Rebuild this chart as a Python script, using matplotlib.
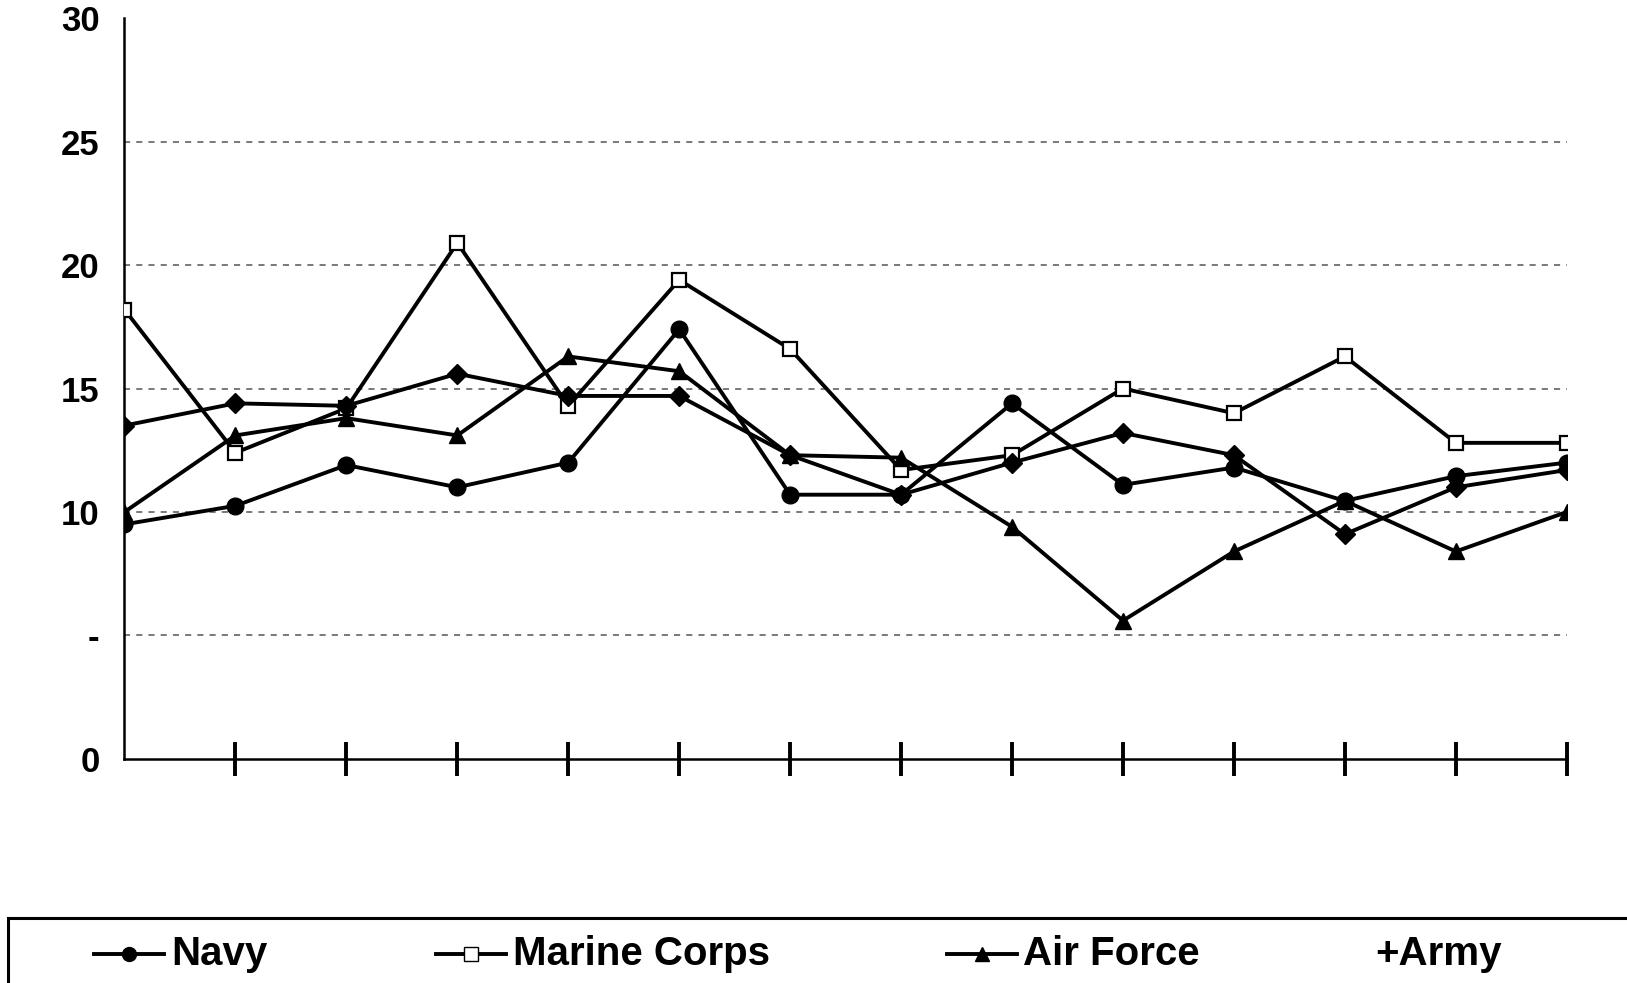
import matplotlib
matplotlib.use("Agg")
import matplotlib.pyplot as plt
from matplotlib.lines import Line2D
from matplotlib.patches import Rectangle

plt.rcParams['font.family'] = ['Liberation Sans', 'DejaVu Sans']

# values (14 periods, no x labels)
periods = list(range(14))
navy = [9.5, 10.25, 11.9, 11.0, 12.0, 17.4, 10.7, 10.7, 14.4, 11.1, 11.8, 10.45, 11.45, 12.0]
marine_corps = [18.2, 12.4, 14.2, 20.9, 14.3, 19.4, 16.6, 11.7, 12.3, 15.0, 14.0, 16.3, 12.8, 12.8]
air_force = [10.0, 13.1, 13.8, 13.1, 16.3, 15.7, 12.3, 12.2, 9.4, 5.6, 8.4, 10.45, 8.4, 10.0]
army = [13.5, 14.4, 14.3, 15.6, 14.7, 14.7, 12.3, 10.7, 12.0, 13.2, 12.3, 9.1, 11.0, 11.7]

ytick_vals = [0, 5, 10, 15, 20, 25, 30]
ytick_labels = ["0", "-", "10", "15", "20", "25", "30"]

fig = plt.figure(figsize=(16.27, 9.83), dpi=100)
ax = fig.add_axes([0.0765, 0.228, 0.8865, 0.7535])

lw = 2.8
for yv in [5, 10, 15, 20, 25]:
    ax.axhline(yv, color="#555555", lw=1.1, ls=(0, (4, 4)), zorder=0)

ax.plot(periods, navy, color="black", lw=lw, marker="o", ms=12, zorder=3)
ax.plot(periods, marine_corps, color="black", lw=lw, marker="s", ms=10,
        mfc="white", mec="black", mew=1.6, zorder=3)
ax.plot(periods, air_force, color="black", lw=lw, marker="^", ms=11, zorder=3)
ax.plot(periods, army, color="black", lw=lw, marker="D", ms=10, zorder=3)

ax.set_xlim(0, 13)
ax.set_ylim(0, 30)
ax.set_xticks(range(1, 14))
ax.set_xticklabels([])
ax.tick_params(axis="x", direction="inout", length=24, width=2.8, color="black")
ax.set_yticks(ytick_vals)
ax.set_yticklabels(ytick_labels, fontsize=25, fontweight="bold")
ax.tick_params(axis="y", length=0, pad=18)
ax.spines["top"].set_visible(False)
ax.spines["right"].set_visible(False)
ax.spines["left"].set_linewidth(1.8)
ax.spines["bottom"].set_linewidth(1.8)

# legend box, cut off at the bottom and right as in the scan
fig.add_artist(Rectangle((0.005, -0.05), 1.1, 0.1165, transform=fig.transFigure,
                         fill=False, ec="black", lw=2.2, clip_on=False))

legend_y = 0.029
entries = [
    (0.058, "o", "black", "Navy"),
    (0.268, "s", "white", "Marine Corps"),
    (0.582, "^", "black", "Air Force"),
]
for x0, mk, fc, label in entries:
    fig.add_artist(Line2D([x0, x0 + 0.043], [legend_y, legend_y], transform=fig.transFigure,
                          color="black", lw=lw, zorder=4))
    fig.add_artist(Line2D([x0 + 0.0215], [legend_y], transform=fig.transFigure,
                          color="black", marker=mk, ms=10, mfc=fc, mec="black", zorder=5))
    fig.text(x0 + 0.047, legend_y, label, fontsize=29, fontweight="bold", va="center", ha="left")
fig.text(0.845, legend_y, "+Army", fontsize=29, fontweight="bold", va="center", ha="left")

fig.savefig("out.png", dpi=100)
